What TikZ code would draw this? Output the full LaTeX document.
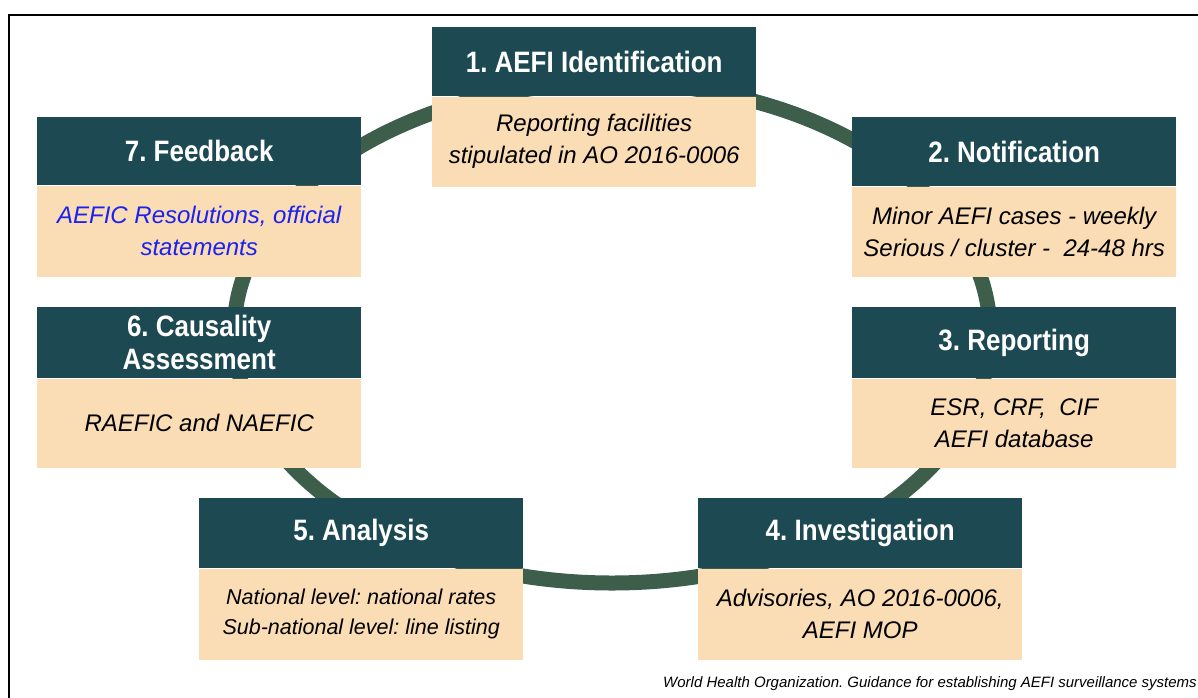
\documentclass[tikz,border=0pt]{standalone}
\usepackage{fontspec}
\setmainfont{Liberation Sans}
\newfontfamily\headfont[FakeStretch=0.88]{Liberation Sans}
\usepackage{tikz}
\usetikzlibrary{positioning}
\definecolor{aefiteal}{HTML}{1D4A52}
\definecolor{aefipeach}{HTML}{FADCB5}
\definecolor{aefiring}{HTML}{3C5E4B}
\definecolor{aefiblue}{HTML}{1A22F0}
\frenchspacing
\tikzset{
  stephead/.style = {fill=aefiteal, text=white, anchor=north west,
                     minimum width=324pt, minimum height=69pt, inner sep=0pt,
                     align=center, font=\headfont\fontsize{29.5}{33}\selectfont\bfseries},
  stepbody/.style = {fill=aefipeach, text=black,
                     minimum width=324pt, minimum height=90pt, inner sep=0pt,
                     align=center, font=\fontsize{24}{32}\selectfont\itshape},
  smallbody/.style= {stepbody, font=\fontsize{21.5}{30}\selectfont\itshape},
  ringline/.style = {draw=aefiring, line width=15pt},
  framebox/.style = {draw=black, line width=2.5pt},
  srcnote/.style  = {font=\fontsize{15}{17}\selectfont\itshape, inner sep=0pt},
}

\begin{document}
\begin{tikzpicture}[x=1pt,y=-1pt]
  \useasboundingbox (0,0) rectangle (1198,697);
  \draw[framebox] (9,700) -- (9,15) -- (1200,15);
  % ring behind the steps
  \coordinate (hub) at (612,333);
  \draw[ringline] (hub) ellipse [x radius=378, y radius=250];
  % steps, clockwise from the top
  \node[stephead] (h1) at (432,27)  {1. AEFI Identification};
  \node[stepbody, below=0pt of h1] (b1) {Reporting facilities\\stipulated in AO 2016-0006};
  \node[stephead] (h2) at (852,117) {2. Notification};
  \node[stepbody, below=0pt of h2] (b2) {Minor AEFI cases - weekly\\Serious / cluster -~~24-48 hrs};
  \node[stephead, minimum height=71pt] (h3) at (852,307) {3. Reporting};
  \node[stepbody, minimum height=89pt, below=0pt of h3] (b3) {ESR, CRF,~~CIF\\AEFI database};
  \node[stephead, minimum height=70pt] (h4) at (698,498) {4. Investigation};
  \node[stepbody, minimum height=91pt, below=0pt of h4] (b4) {Advisories, AO 2016-0006,\\AEFI MOP};
  \node[stephead, minimum height=70pt] (h5) at (199,498) {5. Analysis};
  \node[smallbody, minimum height=91pt, below=0pt of h5] (b5) {National level: national rates\\Sub-national level: line listing};
  \node[stephead, minimum height=71pt] (h6) at (37,307) {6. Causality\\Assessment};
  \node[stepbody, minimum height=89pt, below=0pt of h6] (b6) {RAEFIC and NAEFIC};
  \node[stephead, minimum height=68pt] (h7) at (37,117) {7. Feedback};
  \node[stepbody, minimum height=91pt, text=aefiblue, below=0pt of h7] (b7) {AEFIC Resolutions, official\\statements};
  % source line
  \node[srcnote, anchor=base east] (src) at (1197,687)
    {World Health Organization. Guidance for establishing AEFI surveillance systems};
\end{tikzpicture}
\end{document}
